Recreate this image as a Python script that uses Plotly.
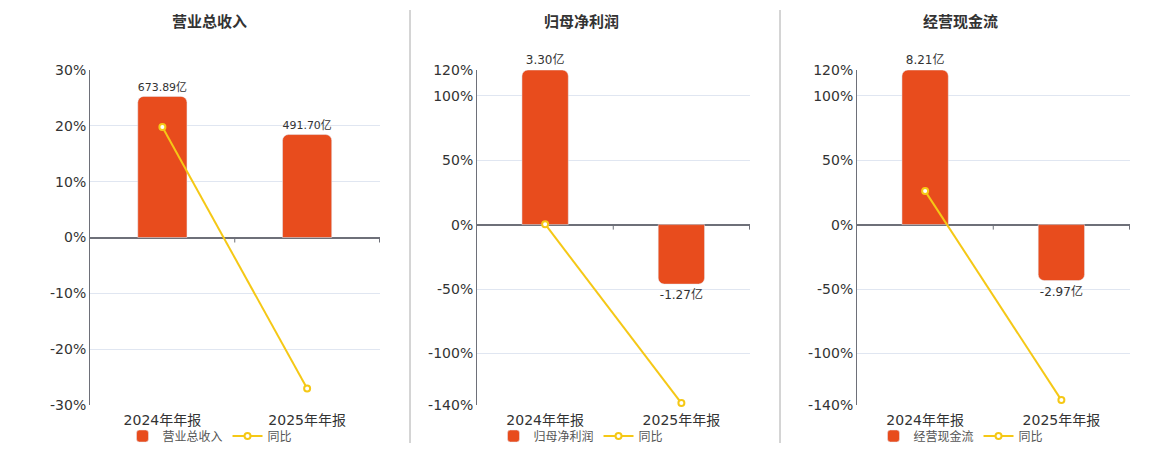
import plotly.graph_objects as go

# data
categories = ["2024年年报", "2025年年报"]
titles = ["营业总收入", "归母净利润", "经营现金流"]
bar_values = [
    [673.89, 491.70],
    [3.30, -1.27],
    [8.21, -2.97],
]
bar_labels = [
    ["673.89亿", "491.70亿"],
    ["3.30亿", "-1.27亿"],
    ["8.21亿", "-2.97亿"],
]
yoy_values = [
    [19.8, -27.04],
    [0.3, -138.48],
    [26.0, -136.18],
]
pct_ranges = [[-30, 30], [-140, 120], [-140, 120]]
pct_ticks = [
    [-30, -20, -10, 0, 10, 20, 30],
    [-140, -100, -50, 0, 50, 100, 120],
    [-140, -100, -50, 0, 50, 100, 120],
]

W, H = 1160, 450
OFF = 8  # page body margin
MT, MB = 10, 10
BAR_COLOR = "#E84C1D"
LINE_COLOR = "#F5C816"
AXIS_COLOR = "#6E7079"
GRID_COLOR = "#E0E6F1"
TEXT_COLOR = "#333333"
FONT = "DejaVu Sans, Noto Sans CJK SC, sans-serif"


def px(x):
    return (x - OFF) / W


def py(y):
    return 1 - (y - OFF - MT) / (H - MT - MB)


# screen pixel layout of each panel
plot_x = [(90, 380), (477, 750), (857, 1130)]
centers = [210, 581, 961]
y_dom = [py(405), py(70)]

fig = go.Figure()
layout = dict(
    width=W, height=H,
    margin=dict(l=0, r=0, t=MT, b=MB),
    paper_bgcolor="white", plot_bgcolor="white",
    font=dict(family=FONT, color=TEXT_COLOR, size=12),
    bargap=0.66,
    shapes=[], annotations=[],
)

for i in range(3):
    n = i + 1
    xa = "x" if n == 1 else f"x{n}"
    ybar = "y" if n == 1 else f"y{n}"
    ypct = f"y{n + 3}"
    sfx = "" if n == 1 else str(n)

    lo, hi = pct_ranges[i]
    bmax = max(bar_values[i])
    bar_range = [bmax * lo / hi, bmax]
    if i == 0:
        bar_range = [-800, 800]

    fig.add_trace(go.Bar(
        x=categories, y=bar_values[i], name=titles[i],
        xaxis=xa, yaxis=ybar,
        marker=dict(color=BAR_COLOR, cornerradius=6),
        text=bar_labels[i], textposition="outside", cliponaxis=False,
        textfont=dict(size=12, color=TEXT_COLOR),
        legend="legend" + sfx, hoverinfo="skip",
    ))
    fig.add_trace(go.Scatter(
        x=categories, y=yoy_values[i], name="同比",
        xaxis=xa, yaxis=ypct, mode="lines+markers",
        line=dict(color=LINE_COLOR, width=2),
        marker=dict(symbol="circle", size=6, color="white",
                    line=dict(color=LINE_COLOR, width=2)),
        legend="legend" + sfx, hoverinfo="skip", cliponaxis=False,
    ))

    x0, x1 = plot_x[i]
    layout["xaxis" + sfx] = dict(
        domain=[px(x0), px(x1)], anchor=ybar, type="category",
        showline=False, showgrid=False, ticks="",
        tickfont=dict(size=14, color=TEXT_COLOR), ticklabelstandoff=5,
    )
    layout["yaxis" + sfx] = dict(
        domain=y_dom, anchor=xa, range=bar_range,
        visible=False, showgrid=False, zeroline=False,
    )
    layout[f"yaxis{n + 3}"] = dict(
        domain=y_dom, anchor=xa, overlaying=ybar, side="left",
        range=[lo, hi], tickvals=pct_ticks[i],
        ticktext=[f"{t}%" for t in pct_ticks[i]],
        showgrid=True, gridcolor=GRID_COLOR, gridwidth=1,
        zeroline=True, zerolinecolor=AXIS_COLOR, zerolinewidth=2,
        showline=True, linecolor=AXIS_COLOR, linewidth=1,
        ticks="", tickfont=dict(size=14, color=TEXT_COLOR),
    )
    layout["legend" + sfx] = dict(
        orientation="h", x=px(centers[i]), y=py(436),
        xanchor="center", yanchor="middle",
        font=dict(size=12, color="#555555"),
        bgcolor="rgba(0,0,0,0)", itemwidth=30, tracegroupgap=0,
    )
    layout["annotations"].append(dict(
        text=f"<b>{titles[i]}</b>", x=px(centers[i]), y=py(22),
        xref="paper", yref="paper", showarrow=False,
        font=dict(size=15, color=TEXT_COLOR),
        xanchor="center", yanchor="middle",
    ))
    # small ticks on the zero line at category boundaries
    for b in (0.5, 1.5):
        layout["shapes"].append(dict(
            type="line", xref=xa, yref=ypct, x0=b, x1=b,
            ysizemode="pixel", yanchor=0, y0=0, y1=-5,
            line=dict(color=AXIS_COLOR, width=1),
        ))

# separators between panels
for sx in (410, 780):
    layout["shapes"].append(dict(
        type="line", xref="paper", yref="paper",
        x0=px(sx), x1=px(sx), y0=py(443), y1=py(10),
        line=dict(color="#AAAAAA", width=1),
    ))

fig.update_layout(**layout)
fig.write_html("out.html")
